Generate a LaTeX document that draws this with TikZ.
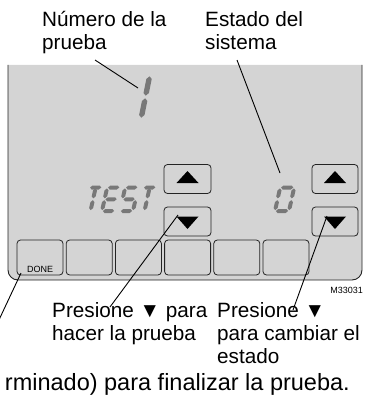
\documentclass[tikz,border=0pt]{standalone}
\usepackage{fontspec}
\setmainfont{Liberation Sans}
\definecolor{panelgray}{RGB}{212,212,212}
\definecolor{lcdgray}{RGB}{120,120,120}
\definecolor{edgecol}{RGB}{35,35,35}
\newcommand\segW{13}
\newcommand\segH{23.5}
\newcommand\segG{0.9}
\newcommand\segT{2.0}
% horizontal segment: #1 = left u, #2 = right u, #3 = height v
\newcommand\hs[3]{\fill[lcd] (#1,{-(#3)}) -- ({#1+\segT},{-(#3)-\segT}) -- ({#2-\segT},{-(#3)-\segT})
  -- (#2,{-(#3)}) -- ({#2-\segT},{-(#3)+\segT}) -- ({#1+\segT},{-(#3)+\segT}) -- cycle;}
% vertical segment: #1 = u, #2 = lower v, #3 = upper v
\newcommand\vs[3]{\fill[lcd] (#1,{-(#2)}) -- ({#1+\segT},{-(#2)-\segT}) -- ({#1+\segT},{-(#3)+\segT})
  -- (#1,{-(#3)}) -- ({#1-\segT},{-(#3)+\segT}) -- ({#1-\segT},{-(#2)-\segT}) -- cycle;}
\newcommand\sgA{\hs{\segG}{\segW-\segG}{\segH}}
\newcommand\sgB{\vs{\segW}{\segH/2+\segG}{\segH-\segG}}
\newcommand\sgC{\vs{\segW}{\segG}{\segH/2-\segG}}
\newcommand\sgD{\hs{\segG}{\segW-\segG}{0}}
\newcommand\sgE{\vs{0}{\segG}{\segH/2-\segG}}
\newcommand\sgF{\vs{0}{\segH/2+\segG}{\segH-\segG}}
\newcommand\sgG{\hs{\segG}{\segW-\segG}{\segH/2}}
\newcommand\sgT{\vs{\segW/2}{\segG}{\segH/2-\segG}\vs{\segW/2}{\segH/2+\segG}{\segH-\segG}}
\begin{document}
\begin{tikzpicture}[x=1pt,y=-1pt,
  btn/.style={draw=edgecol, fill=panelgray, rounded corners=3.5pt, line width=0.8pt, inner sep=0pt},
  lcd/.style={fill=lcdgray},
  lead/.style={draw=black, line width=0.9pt},
  lbl/.style={anchor=base west, inner sep=0pt, font=\fontsize{20.7}{24}\selectfont},
  small/.style={inner sep=0pt, font=\fontsize{9}{10}\selectfont},
  tri/.style={fill=black}]
\useasboundingbox (0,0) rectangle (368,412);
% panel
\filldraw[fill=panelgray, draw=edgecol, line width=0.9pt, rounded corners=10pt]
  (8,65) -- (8,280) -- (362,280) -- (362,65);
% bottom buttons
\foreach \i/\nm in {0/b1,1/b2,2/b3,3/b4,4/b5,5/b6}
  \node[btn, minimum width=46pt, minimum height=35pt] (\nm) at ({40+49.2*\i},257.5) {};
\node[small, anchor=base west] (done) at (27,272) {DONE};
% up/down buttons
\node[btn, minimum width=47pt, minimum height=29pt] (upL) at (187.5,179) {};
\node[btn, minimum width=47pt, minimum height=29pt] (dnL) at (187.5,221.5) {};
\node[btn, minimum width=46pt, minimum height=29pt] (upR) at (335,179) {};
\node[btn, minimum width=46pt, minimum height=29pt] (dnR) at (335,221.5) {};
\foreach \cx in {187.5,335}{
  \fill[tri] (\cx-11,183) -- (\cx+11,183) -- (\cx,171) -- cycle;
  \fill[tri] (\cx-11,216.5) -- (\cx+11,216.5) -- (\cx,229) -- cycle;
}
% LCD: TEST
\begin{scope}[shift={(84,211)}, xslant=0.22]\sgA\sgT\end{scope}
\begin{scope}[shift={(102,211)}, xslant=0.22]\sgA\sgD\sgE\sgF\sgG\end{scope}
\begin{scope}[shift={(120,211)}, xslant=0.22]\sgA\sgF\sgG\sgC\sgD\end{scope}
\begin{scope}[shift={(138,211)}, xslant=0.22]\sgA\sgT\end{scope}
% LCD: 0
\begin{scope}[shift={(275,211)}, xslant=0.22]
  \renewcommand\segW{14}\sgA\sgB\sgC\sgD\sgE\sgF
\end{scope}
% LCD: 1
\begin{scope}[shift={(141,119)}, xslant=0.2]
  \renewcommand\segH{44}\renewcommand\segT{2.7}\renewcommand\segG{1.3}\sgE\sgF
\end{scope}
% labels
\node[lbl] (t1a) at (42,27) {Número de la};
\node[lbl] (t1b) at (42,50) {prueba};
\node[lbl] (t2a) at (205,27) {Estado del};
\node[lbl] (t2b) at (205,50) {sistema};
\node[lbl] (t3a) at (52,317) {Presione ▼ para};
\node[lbl] (t3b) at (52,340) {hacer la prueba};
\node[lbl] (t4a) at (217,317) {Presione ▼};
\node[lbl] (t4b) at (217,340) {para cambiar el};
\node[lbl] (t4c) at (217,363) {estado};
\node[lbl, anchor=base east, font=\fontsize{23.5}{26}\selectfont] (t5) at (350,390) {rminado) para finalizar la prueba.};
\node[small, anchor=base east] (code) at (363,293) {M33031};
% leader lines
\coordinate (c1a) at (95,60);   \coordinate (c1b) at (138,88);
\coordinate (c2a) at (237,60);  \coordinate (c2b) at (280,173);
\coordinate (c3a) at (178,215); \coordinate (c3b) at (110,307);
\coordinate (c4a) at (327,216); \coordinate (c4b) at (293,310);
\coordinate (c5a) at (21,273);  \coordinate (c5b) at (-2,322);
\draw[lead] (c1a) -- (c1b);
\draw[lead] (c2a) -- (c2b);
\draw[lead] (c3a) -- (c3b);
\draw[lead] (c4a) -- (c4b);
\draw[lead] (c5a) -- (c5b);
\end{tikzpicture}
\end{document}
